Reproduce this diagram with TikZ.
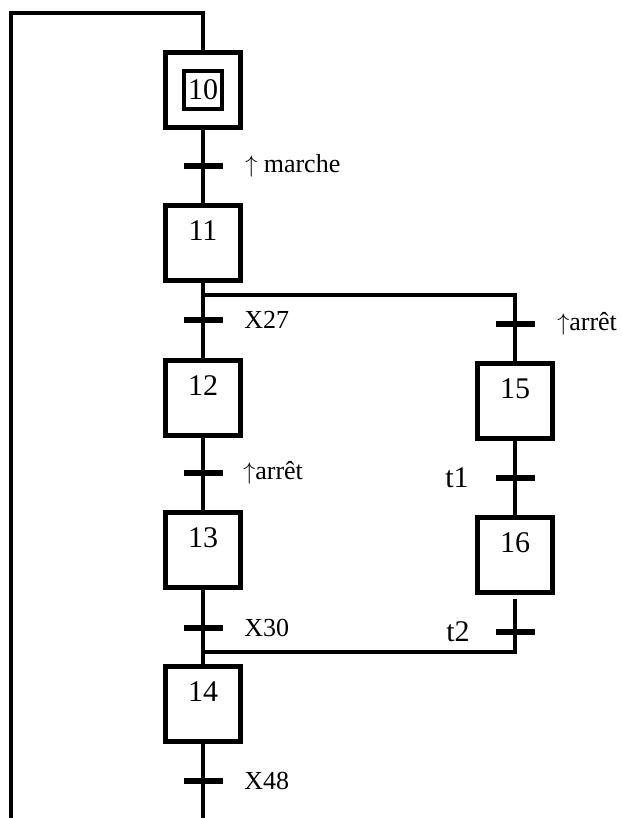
\documentclass[tikz,border=0pt]{standalone}
\usepackage{fontspec}
\setmainfont{Liberation Serif}
\usetikzlibrary{positioning}
\newcommand{\numfont}{\fontsize{15}{15}\selectfont}
\newcommand{\condfont}{\fontsize{13}{14}\selectfont}
\tikzset{
  etape/.style={draw,line width=2.3pt,minimum size=37.7pt,inner sep=0pt,
    text height=17.4pt,text depth=20.3pt,font=\numfont},
  etinit/.style={draw,line width=2.3pt,minimum size=19pt,inner sep=0pt,font=\numfont},
  recep/.style={fill,minimum width=19.5pt,minimum height=3pt,inner sep=0pt},
  cond/.style={inner sep=0pt,font=\condfont},
  lien/.style={line width=2.3pt},
}

\begin{document}
\begin{tikzpicture}[x=0.5pt,y=-0.5pt]
\useasboundingbox (0,0) rectangle (621,818);
% main sequence
\node[etape] (s10) at (203,90) {};
\node[etinit] (s10i) at (s10.center) {10};
\node[etape] (s11) at (203,243) {11};
\node[etape] (s12) at (203,398) {12};
\node[etape] (s13) at (203,550) {13};
\node[etape] (s14) at (203,704) {14};
% right branch
\node[etape] (s15) at (515,401) {15};
\node[etape] (s16) at (515,555) {16};
\coordinate (div) at (203,295);
\coordinate (conv) at (203,652);
\coordinate (bas) at (203,818);
\coordinate (basG) at (11,818);
\coordinate (haut) at (203,13);
\draw[lien] (s10) -- (s11); \draw[lien] (s11) -- (s12);
\draw[lien] (s12) -- (s13); \draw[lien] (s13) -- (s14);
\draw[lien] (s14) -- (bas);
\draw[lien] (div) -| (s15); \draw[lien] (s15) -- (s16);
\draw[lien] ([yshift=-2pt]s16.south) |- (conv);
\draw[lien] (basG) |- (haut) -- (s10);
% transitions
\node[recep] (r10) at (203,166) {};
\node[cond,right=11pt of r10] {$\uparrow$ marche};
\node[recep] (r11) at (203,320) {};
\node[cond,right=10.5pt of r11] {X27};
\node[recep] (r12) at (203,473) {};
\node[cond,right=10pt of r12] {$\uparrow$arrêt};
\node[recep] (r13) at (203,628) {};
\node[cond,right=10.5pt of r13] {X30};
\node[recep] (r14) at (203,781) {};
\node[cond,right=10.5pt of r14] {X48};
\node[recep] (r15) at (515,324) {};
\node[cond,right=11pt of r15] {$\uparrow$arrêt};
\node[recep] (r16) at (515,478) {};
\node[cond,font=\numfont,left=13pt of r16] {t1};
\node[recep] (r17) at (515,632) {};
\node[cond,font=\numfont,left=12.5pt of r17] {t2};
\end{tikzpicture}
\end{document}
